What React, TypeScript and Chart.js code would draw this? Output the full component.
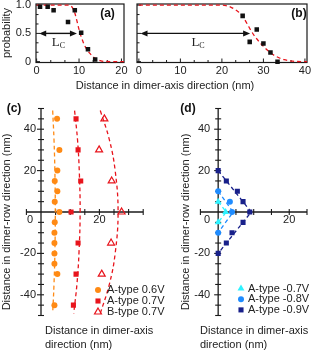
import React, { useEffect, useRef } from "react";
import { Chart, registerables } from "chart.js";

Chart.register(...registerables);

const SANS = '"Liberation Sans", Arial, Helvetica, sans-serif';
const SERIF = '"Liberation Serif", "Times New Roman", serif';
const W = 311;
const H = 350;

// ---------------- panel (a) ----------------
const aDotX = [0.8, 2.6, 4.0, 7.4, 9.0, 10.5, 12.1, 13.8];
const aDotY = [0.97, 0.97, 0.91, 0.7, 0.91, 0.51, 0.22, 0.04];
const aFitX = [0, 7.5, 8, 8.5, 9, 9.5, 10, 10.5, 11, 11.5, 12, 12.5, 13, 13.5, 14, 15, 16, 20.6];
const aFitY = [1, 1, 0.99, 0.95, 0.86, 0.72, 0.57, 0.44, 0.34, 0.26, 0.2, 0.15, 0.11, 0.075, 0.05, 0.018, 0.004, 0];
const aArrowX = [0.6, 9.5];

// ---------------- panel (b) ----------------
const bDotX = [25.0, 26.7, 28.4, 30.0, 31.7, 33.4];
const bDotY = [0.81, 0.35, 0.57, 0.32, 0.16, 0.0];
const bFitX = [0, 20, 21, 22, 23, 24, 25, 26, 27, 28, 29, 30, 31, 32, 33, 34, 35, 36, 37, 38, 40.5];
const bFitY = [1, 1, 0.99, 0.97, 0.93, 0.88, 0.8, 0.68, 0.55, 0.44, 0.35, 0.27, 0.2, 0.14, 0.095, 0.06, 0.035, 0.02, 0.01, 0.003, 0];
const bArrowX = [0.4, 26.8];

// tick labels (a),(b)
const abYTickValues = [0, 0.5, 1];
const abYTickLabels = ["0", "0.5", "1.0"];
const aXTickValues = [0, 10, 20];
const bXTickValues = [0, 10, 20, 30, 40];

// ---------------- panel (c) ----------------
const cOrangeX = [5.5, 6.3, 5.6, 4.7, 5.6, 4.7, 6.3, 4.7, 4.6, 4.6, 4.6, 4.6, 5.6, 4.6];
const cOrangeY = [45, 30, 20, 15, 10, 5, 0, -5, -10, -15, -20, -25, -30, -45];
const cRedX = [12.0, 12.7, 13.6, 10.3, 12.7, 12.0, 11.1];
const cRedY = [45, 30, 15, 0, -15, -30, -45];
const cTriX = [21.7, 19.9, 24.2, 27.6, 24.0, 20.8];
const cTriY = [45, 30, 15, 0, -15, -30];
const cFitY = [49, 35, 20, 0, -20, -35, -49];
const cOrangeFitX = [4.0, 4.45, 4.75, 4.9, 4.75, 4.45, 4.0];
const cRedFitX = [11.5, 12.5, 13.1, 13.4, 13.0, 12.3, 11.2];
const cTriFitX = [20.3, 23.4, 25.4, 26.4, 25.4, 23.4, 20.3];
const cLegend = ["A-type 0.6V", "A-type 0.7V", "B-type 0.7V"];

// ---------------- panel (d) ----------------
const dCyanX = [0, 2.1, 0];
const dCyanY = [5, 0, -5];
const dBlueX = [0, 3.3, 3.9, 0];
const dBlueY = [10, 5, 0, -10];
const dNavyX = [0, 2.3, 5.4, 7.0, 8.9, 7.0, 3.9, 2.3, 0];
const dNavyY = [20, 15, 10, 5, 0, -5, -10, -15, -20];
const dCyanFitX = [0, 2.3, 0];
const dCyanFitY = [5, 0, -5];
const dBlueFitX = [0, 4.2, 0];
const dBlueFitY = [10, 0, -10];
const dNavyFitX = [0, 9.3, 0];
const dNavyFitY = [20, 0, -20];
const dLegend = ["A-type -0.7V", "A-type -0.8V", "A-type -0.9V"];

// tick labels (c),(d)
const cdYTickValues = [40, 20, -20, -40];
const cdXTickValues = [20];

const RED = "#e8141c";
const ORANGE = "#ff8a14";
const CYAN = "#2ef2ff";
const BLUE = "#1f8cff";
const NAVY = "#18208a";

const xy = (xs: number[], ys: number[]) => xs.map((x, i) => ({ x, y: ys[i] }));

function seg(ctx: CanvasRenderingContext2D, x1: number, y1: number, x2: number, y2: number) {
  ctx.beginPath();
  ctx.moveTo(x1, y1);
  ctx.lineTo(x2, y2);
  ctx.stroke();
}

function drawMarker(ctx: CanvasRenderingContext2D, ds: any, x: number, y: number) {
  const r = ds.pointRadius;
  ctx.save();
  ctx.fillStyle = ds.backgroundColor;
  ctx.strokeStyle = ds.borderColor;
  ctx.lineWidth = ds.borderWidth || 0;
  ctx.beginPath();
  if (ds.pointStyle === "circle") ctx.arc(x, y, r, 0, Math.PI * 2);
  else if (ds.pointStyle === "rect") {
    const s = r * Math.SQRT1_2;
    ctx.rect(x - s, y - s, 2 * s, 2 * s);
  } else {
    for (let k = 0; k < 3; k++) {
      const ang = (k * 2 * Math.PI) / 3;
      const px = x + Math.sin(ang) * r;
      const py = y - Math.cos(ang) * r;
      if (k === 0) ctx.moveTo(px, py);
      else ctx.lineTo(px, py);
    }
    ctx.closePath();
  }
  ctx.fill();
  if (ds.borderWidth) ctx.stroke();
  ctx.restore();
}

function arrowHead(ctx: CanvasRenderingContext2D, x: number, y: number, dir: number) {
  ctx.beginPath();
  ctx.moveTo(x, y);
  ctx.lineTo(x - dir * 7, y - 3);
  ctx.lineTo(x - dir * 7, y + 3);
  ctx.closePath();
  ctx.fill();
}

type BoxOpts = {
  xTicks: number[];
  xStep: number;
  yStep: number;
  showYLabels: boolean;
  arrow: number[];
  lcX: number;
  tag: string;
  tagPx: [number, number];
  extra?: (ctx: CanvasRenderingContext2D) => void;
};

function boxPanelPlugin(o: BoxOpts) {
  return {
    id: "boxPanel",
    beforeDatasetsDraw(chart: any) {
      const { ctx, chartArea: a } = chart;
      const x = chart.scales.x;
      const y = chart.scales.y;
      ctx.save();
      ctx.strokeStyle = "#1a1a1a";
      ctx.lineWidth = 1.2;
      ctx.strokeRect(a.left, a.top, a.right - a.left, a.bottom - a.top);
      ctx.lineWidth = 1;
      const x0 = o.xTicks[0];
      const x1 = o.xTicks[o.xTicks.length - 1];
      const nx = Math.round((x1 - x0) / o.xStep);
      for (let i = 0; i <= nx; i++) {
        const v = x0 + i * o.xStep;
        const px = x.getPixelForValue(v);
        const major = o.xTicks.some((t) => Math.abs(t - v) < 1e-6);
        seg(ctx, px, a.bottom, px, a.bottom - (major ? 4 : 2.5));
      }
      const ny = Math.round(1 / o.yStep);
      for (let i = 0; i <= ny; i++) {
        const v = i * o.yStep;
        const py = y.getPixelForValue(v);
        const major = abYTickValues.some((t) => Math.abs(t - v) < 1e-6);
        seg(ctx, a.left, py, a.left + (major ? 4 : 2.5), py);
      }
      ctx.restore();
    },
    afterDatasetsDraw(chart: any) {
      const { ctx, chartArea: a } = chart;
      const x = chart.scales.x;
      const y = chart.scales.y;
      ctx.save();
      // double arrow
      const ay = y.getPixelForValue(0.5);
      const ax0 = x.getPixelForValue(o.arrow[0]);
      const ax1 = x.getPixelForValue(o.arrow[1]);
      ctx.strokeStyle = "#111";
      ctx.fillStyle = "#111";
      ctx.lineWidth = 1.4;
      seg(ctx, ax0 + 4, ay, ax1 - 4, ay);
      arrowHead(ctx, ax0, ay, -1);
      arrowHead(ctx, ax1, ay, 1);
      // L_c
      const lx = x.getPixelForValue(o.lcX);
      const ly = y.getPixelForValue(0.35);
      ctx.font = `13px ${SERIF}`;
      ctx.textAlign = "left";
      ctx.textBaseline = "alphabetic";
      ctx.fillStyle = "#222";
      ctx.fillText("L", lx - 6, ly + 4);
      const lw = ctx.measureText("L").width;
      ctx.font = `8px ${SERIF}`;
      ctx.fillText("C", lx - 6 + lw, ly + 6);
      // tag
      ctx.font = `bold 12px ${SANS}`;
      ctx.textAlign = "center";
      ctx.textBaseline = "middle";
      ctx.fillStyle = "#111";
      ctx.fillText(o.tag, o.tagPx[0], o.tagPx[1]);
      // tick labels
      ctx.font = `11px ${SANS}`;
      ctx.fillStyle = "#222";
      ctx.textAlign = "center";
      for (const v of o.xTicks) ctx.fillText(String(v), x.getPixelForValue(v), a.bottom + 8);
      if (o.showYLabels) {
        ctx.textAlign = "right";
        abYTickValues.forEach((v, i) => ctx.fillText(abYTickLabels[i], a.left - 5, y.getPixelForValue(v)));
      }
      if (o.extra) o.extra(ctx);
      ctx.restore();
    },
  };
}

type CrossOpts = {
  yLabelGap: number;
  tag: string;
  tagPx: [number, number];
  yTitlePx: [number, number];
  xTitlePx: [number, number];
  legend: string[];
  legendMarkerX: number;
  legendTextX: number;
  legendY: number;
  legendDy: number;
};

function crossPanelPlugin(o: CrossOpts) {
  return {
    id: "crossPanel",
    beforeDatasetsDraw(chart: any) {
      const { ctx, chartArea: a } = chart;
      const x = chart.scales.x;
      const y = chart.scales.y;
      const x0 = x.getPixelForValue(0);
      const y0 = y.getPixelForValue(0);
      ctx.save();
      ctx.strokeStyle = "#1a1a1a";
      ctx.lineWidth = 1.3;
      seg(ctx, a.left, y0, a.right, y0);
      seg(ctx, x0, a.top, x0, a.bottom);
      ctx.lineWidth = 1.1;
      const nx = Math.round((x.max - x.min) / 5);
      for (let i = 0; i <= nx; i++) {
        const v = x.min + i * 5;
        if (Math.abs(v) < 1e-6) continue;
        const px = x.getPixelForValue(v);
        seg(ctx, px, y0 - 3, px, y0 + 3);
      }
      const ny = Math.round((y.max - y.min) / 5);
      for (let i = 0; i <= ny; i++) {
        const v = y.min + i * 5;
        if (Math.abs(v) < 1e-6) continue;
        const py = y.getPixelForValue(v);
        const major = Math.abs(v % 20) < 1e-6;
        seg(ctx, x0 - (major ? 4 : 3), py, x0 + 3, py);
      }
      ctx.restore();
    },
    afterDraw(chart: any) {
      const { ctx } = chart;
      const x = chart.scales.x;
      const y = chart.scales.y;
      const x0 = x.getPixelForValue(0);
      const y0 = y.getPixelForValue(0);
      ctx.save();
      ctx.fillStyle = "#222";
      ctx.font = `11px ${SANS}`;
      ctx.textBaseline = "middle";
      ctx.textAlign = "right";
      for (const v of cdYTickValues) ctx.fillText(String(v), x0 - o.yLabelGap, y.getPixelForValue(v));
      ctx.textAlign = "center";
      ctx.fillText("0", x0 - 11, y0 + 8);
      for (const v of cdXTickValues) ctx.fillText(String(v), x.getPixelForValue(v), y0 + 8);
      // titles
      ctx.textAlign = "left";
      ctx.fillText("Distance in dimer-axis", o.xTitlePx[0], o.xTitlePx[1]);
      ctx.fillText("direction (nm)", o.xTitlePx[0], o.xTitlePx[1] + 14);
      ctx.save();
      ctx.translate(o.yTitlePx[0], o.yTitlePx[1]);
      ctx.rotate(-Math.PI / 2);
      ctx.textAlign = "center";
      ctx.fillText("Distance in dimer-row direction (nm)", 0, 0);
      ctx.restore();
      // tag
      ctx.font = `bold 12px ${SANS}`;
      ctx.textAlign = "center";
      ctx.fillStyle = "#111";
      ctx.fillText(o.tag, o.tagPx[0], o.tagPx[1]);
      // legend
      const pts = chart.data.datasets.filter((d: any) => d.label);
      ctx.font = `11px ${SANS}`;
      ctx.textAlign = "left";
      ctx.fillStyle = "#222";
      pts.forEach((ds: any, i: number) => {
        const ly = o.legendY + i * o.legendDy;
        drawMarker(ctx, ds, o.legendMarkerX, ly);
        ctx.fillStyle = "#222";
        ctx.fillText(o.legend[i], o.legendTextX, ly);
      });
      ctx.restore();
    },
  };
}

function baseOptions(pad: any, xr: number[], yr: number[]) {
  return {
    responsive: false,
    maintainAspectRatio: false,
    animation: false,
    devicePixelRatio: 1,
    events: [],
    layout: { padding: pad },
    plugins: { legend: { display: false }, tooltip: { enabled: false }, title: { display: false } },
    scales: {
      x: { type: "linear", min: xr[0], max: xr[1], display: false },
      y: { type: "linear", min: yr[0], max: yr[1], display: false },
    },
  };
}

const dashLine = (data: any, color: string, tension: number, mono = false) => ({
  data,
  showLine: true,
  borderColor: color,
  backgroundColor: color,
  borderWidth: 1.3,
  borderDash: [4, 3],
  pointRadius: 0,
  tension,
  cubicInterpolationMode: mono ? "monotone" : "default",
  fill: false,
  clip: 4,
});

const dots = (data: any, label: string | undefined, style: string, r: number, fillC: string, strokeC: string, bw: number) => ({
  label,
  data,
  showLine: false,
  pointStyle: style,
  pointRadius: r,
  backgroundColor: fillC,
  borderColor: strokeC,
  borderWidth: bw,
  clip: 6,
});

function configA() {
  return {
    type: "scatter",
    data: {
      datasets: [
        dots(xy(aDotX, aDotY), undefined, "rect", 3.2, "#111", "#111", 0),
        dashLine(xy(aFitX, aFitY), RED, 0, true),
      ],
    },
    options: baseOptions({ left: 36, top: 3.5, right: W - 124, bottom: H - 62.5 }, [-0.15, 20.6], [-0.015, 1.02]),
    plugins: [
      boxPanelPlugin({
        xTicks: aXTickValues,
        xStep: 10 / 3,
        yStep: 1 / 6,
        showYLabels: true,
        arrow: aArrowX,
        lcX: 5.0,
        tag: "(a)",
        tagPx: [107.5, 13.5],
        extra: (ctx) => {
          ctx.save();
          ctx.translate(7, 33);
          ctx.rotate(-Math.PI / 2);
          ctx.textAlign = "center";
          ctx.textBaseline = "middle";
          ctx.font = `11px ${SANS}`;
          ctx.fillText("probability", 0, 0);
          ctx.restore();
        },
      }),
    ],
  };
}

function configB() {
  return {
    type: "scatter",
    data: {
      datasets: [
        dots(xy(bDotX, bDotY), undefined, "rect", 3.2, "#111", "#111", 0),
        dashLine(xy(bFitX, bFitY), RED, 0, true),
      ],
    },
    options: baseOptions({ left: 137, top: 3.5, right: 2, bottom: H - 62.5 }, [-0.45, 40.5], [-0.015, 1.02]),
    plugins: [
      boxPanelPlugin({
        xTicks: bXTickValues,
        xStep: 10 / 3,
        yStep: 1 / 6,
        showYLabels: false,
        arrow: bArrowX,
        lcX: 14.1,
        tag: "(b)",
        tagPx: [299, 13.5],
        extra: (ctx) => {
          ctx.font = `11px ${SANS}`;
          ctx.textAlign = "center";
          ctx.textBaseline = "middle";
          ctx.fillText("Distance in dimer-axis direction (nm)", 165, 86);
        },
      }),
    ],
  };
}

function configC() {
  return {
    type: "scatter",
    data: {
      datasets: [
        dots(xy(cOrangeX, cOrangeY), cLegend[0], "circle", 3, ORANGE, ORANGE, 0),
        dots(xy(cRedX, cRedY), cLegend[1], "rect", 3.6, RED, RED, 0),
        dots(xy(cTriX, cTriY), cLegend[2], "triangle", 4, "rgba(255,255,255,0)", RED, 1.2),
        dashLine(xy(cOrangeFitX, cFitY), ORANGE, 0.4),
        dashLine(xy(cRedFitX, cFitY), RED, 0.4),
        dashLine(xy(cTriFitX, cFitY), RED, 0.4),
      ],
    },
    options: baseOptions({ left: 26.4, top: 108.5, right: W - 143.2, bottom: H - 315.5 }, [-5, 35], [-50, 50]),
    plugins: [
      crossPanelPlugin({
        yLabelGap: 5,
        tag: "(c)",
        tagPx: [14, 109],
        yTitlePx: [7, 222],
        xTitlePx: [45, 331],
        legend: cLegend,
        legendMarkerX: 98,
        legendTextX: 107,
        legendY: 290,
        legendDy: 11,
      }),
    ],
  };
}

function configD() {
  return {
    type: "scatter",
    data: {
      datasets: [
        dots(xy(dCyanX, dCyanY), dLegend[0], "triangle", 4, CYAN, CYAN, 0),
        dots(xy(dBlueX, dBlueY), dLegend[1], "circle", 3, BLUE, BLUE, 0),
        dots(xy(dNavyX, dNavyY), dLegend[2], "rect", 3.6, NAVY, NAVY, 0),
        dashLine(xy(dCyanFitX, dCyanFitY), CYAN, 0),
        dashLine(xy(dBlueFitX, dBlueFitY), BLUE, 0),
        dashLine(xy(dNavyFitX, dNavyFitY), NAVY, 0),
      ],
    },
    options: baseOptions({ left: 200.4, top: 108.5, right: 3.2, bottom: H - 315.5 }, [-5, 25], [-50, 50]),
    plugins: [
      crossPanelPlugin({
        yLabelGap: 8,
        tag: "(d)",
        tagPx: [188, 109],
        yTitlePx: [186, 222],
        xTitlePx: [200, 331],
        legend: dLegend,
        legendMarkerX: 241,
        legendTextX: 248,
        legendY: 288.5,
        legendDy: 10.7,
      }),
    ],
  };
}

function ChartCanvas({ make }: { make: () => any }) {
  const ref = useRef<HTMLCanvasElement>(null);
  useEffect(() => {
    const chart = new Chart(ref.current as HTMLCanvasElement, make());
    return () => chart.destroy();
  }, []);
  return (
    <canvas
      ref={ref}
      width={W}
      height={H}
      style={{ position: "absolute", left: 0, top: 0, width: W, height: H }}
    />
  );
}

export default function App() {
  return (
    <div style={{ position: "fixed", left: 0, top: 0, width: W, height: H, background: "#fff", overflow: "hidden" }}>
      <ChartCanvas make={configA} />
      <ChartCanvas make={configB} />
      <ChartCanvas make={configC} />
      <ChartCanvas make={configD} />
    </div>
  );
}
